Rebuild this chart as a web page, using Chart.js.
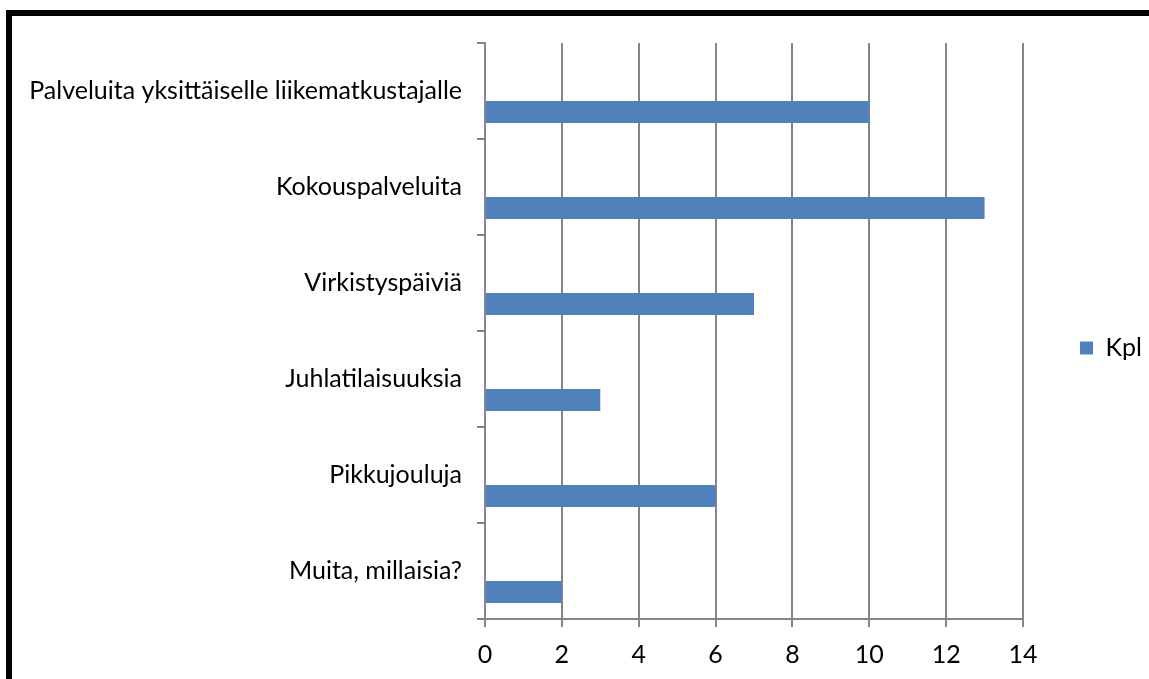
<!DOCTYPE html>
<html lang="fi">
<head>
<meta charset="utf-8">
<title>Palvelut</title>
<script src="https://cdn.jsdelivr.net/npm/chart.js@4/dist/chart.umd.min.js"></script>
<style>
    body { margin: 0; background: #fff; overflow: hidden; }
    #kaavio { position: absolute; left: 0; top: 0; }
    /* paksu musta kehys, oikea ja ala reuna jäävät kuvan ulkopuolelle */
    #kehys {
        position: absolute; left: 6px; top: 10px; right: -40px; bottom: -40px;
        border: 6px solid #000; pointer-events: none;
    }
</style>
</head>
<body>
<canvas id="kaavio" width="1149" height="679"></canvas>
<div id="kehys"></div>
<script>
// Kategoriat ja vastausmäärät
const kategoriat = [
    'Palveluita yksittäiselle liikematkustajalle',
    'Kokouspalveluita',
    'Virkistyspäiviä',
    'Juhlatilaisuuksia',
    'Pikkujouluja',
    'Muita, millaisia?'
];
const kpl = [10, 13, 7, 3, 6, 2];
const xTikit = [0, 2, 4, 6, 8, 10, 12, 14];

const harmaa = '#868686';
const sininen = '#4f81bd';

Chart.defaults.font.family = 'Lato, "Open Sans", sans-serif';
Chart.defaults.font.size = 25;
Chart.defaults.color = '#000';

new Chart(document.getElementById('kaavio'), {
    type: 'bar',
    data: {
        labels: kategoriat,
        datasets: [
            // tyhjä sarja, jotta palkki asettuu kategorian alaosaan
            { label: '', data: kategoriat.map(() => null), backgroundColor: 'transparent' },
            { label: 'Kpl', data: kpl, backgroundColor: sininen }
        ]
    },
    options: {
        indexAxis: 'y',
        responsive: false,
        animation: false,
        categoryPercentage: 0.875,
        barPercentage: 0.524,
        layout: { padding: { top: 43, bottom: 0, left: 0, right: 0 } },
        plugins: {
            tooltip: { enabled: false },
            legend: {
                position: 'right',
                fullSize: false,
                maxWidth: 126,
                // tyhjä otsikko siirtää selitettä hieman alaspäin
                title: { display: true, text: ' ', padding: { top: 0, bottom: 4 } },
                labels: {
                    boxWidth: 13,
                    boxHeight: 13,
                    padding: 57,
                    filter: item => item.text !== ''
                }
            }
        },
        scales: {
            x: {
                min: 0,
                max: 14,
                afterBuildTicks: akseli => {
                    akseli.ticks = xTikit.map(v => ({ value: v }));
                },
                afterFit: akseli => { akseli.height = 60; },
                grid: { color: harmaa, lineWidth: 2, tickLength: 8 },
                border: { color: harmaa, width: 2 },
                ticks: { padding: 13 }
            },
            y: {
                afterFit: akseli => { akseli.width = 485; },
                grid: { drawOnChartArea: false, color: harmaa, lineWidth: 2, tickLength: 8 },
                border: { color: harmaa, width: 2 },
                ticks: { padding: 15 }
            }
        }
    }
});
</script>
</body>
</html>
